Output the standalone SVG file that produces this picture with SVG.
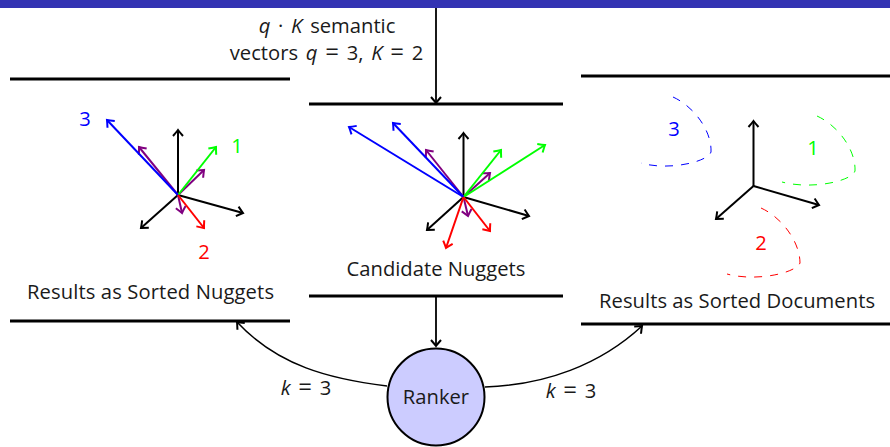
<svg xmlns="http://www.w3.org/2000/svg" width="890" height="447" viewBox="0 0 890 447">
<style>
text{font-family:"Open Sans","Noto Sans",sans-serif;font-size:20.2px;fill:#1a1a1a;text-anchor:middle}
.m{font-style:italic}
.e{font-size:24px}
.w{word-spacing:2.500px}
.rule{stroke:#000;stroke-width:3;fill:none}
.k{stroke:#000;stroke-width:2;fill:none;marker-end:url(#ak)}
.b{stroke:#00f;stroke-width:2;fill:none;marker-end:url(#ab)}
.g{stroke:#0f0;stroke-width:2;fill:none;marker-end:url(#ag)}
.r{stroke:#f00;stroke-width:2;fill:none;marker-end:url(#ar)}
.p{stroke:#800080;stroke-width:2;fill:none;marker-end:url(#ap)}
.c{stroke:#000;stroke-width:1.500;fill:none;marker-end:url(#ak)}
.v{stroke-width:1.800}
.d{fill:none;stroke-width:1;stroke-dasharray:8 8}
</style>
<defs>
<marker id="ak" markerUnits="userSpaceOnUse" markerWidth="14" markerHeight="14" refX="10" refY="7" orient="auto"><path d="M4 2Q8 5.500 10 7Q8 8.500 4 12" fill="none" stroke="#000" stroke-width="2"/></marker>
<marker id="ab" markerUnits="userSpaceOnUse" markerWidth="14" markerHeight="14" refX="10" refY="7" orient="auto"><path d="M4 2Q8 5.500 10 7Q8 8.500 4 12" fill="none" stroke="#00f" stroke-width="2"/></marker>
<marker id="ag" markerUnits="userSpaceOnUse" markerWidth="14" markerHeight="14" refX="10" refY="7" orient="auto"><path d="M4 2Q8 5.500 10 7Q8 8.500 4 12" fill="none" stroke="#0f0" stroke-width="2"/></marker>
<marker id="ar" markerUnits="userSpaceOnUse" markerWidth="14" markerHeight="14" refX="10" refY="7" orient="auto"><path d="M4 2Q8 5.500 10 7Q8 8.500 4 12" fill="none" stroke="#f00" stroke-width="2"/></marker>
<marker id="ap" markerUnits="userSpaceOnUse" markerWidth="14" markerHeight="14" refX="10" refY="7" orient="auto"><path d="M4 2Q8 5.500 10 7Q8 8.500 4 12" fill="none" stroke="#800080" stroke-width="2"/></marker>
</defs>
<rect x="0" y="0" width="890" height="8" fill="#3333b3"/>

<g id="connectors">
<path class="c v" d="M436 8V103"/>
<path class="c v" d="M436 297V346"/>
<path class="c" d="M387 386C330 379 278 366 237 322"/>
<path class="c" d="M485 387C545 385 600 365 642 326"/>
</g>

<g id="results-nuggets">
<path class="rule" d="M10 79H290M10 321H290"/>
<path class="k" d="M178 195V130"/>
<path class="k" d="M178 195L243 213"/>
<path class="k" d="M178 195L141 228"/>
<path class="p" d="M178 195L204 170"/>
<path class="p" d="M178 195L139 147"/>
<path class="p" d="M178 195L182 213"/>
<path class="g" d="M178 195L216 147"/>
<path class="b" d="M178 195L107 120"/>
<path class="r" d="M178 195L204 228"/>
<text x="85" y="126" style="fill:#00f">3</text>
<text x="237" y="153" style="fill:#0f0">1</text>
<text x="204" y="259" style="fill:#f00">2</text>
<text x="150.500" y="299" textLength="247">Results as Sorted Nuggets</text>
</g>

<g id="candidate-nuggets">
<path class="rule" d="M309 104H563M309 296H563"/>
<path class="k" d="M463.500 197V133"/>
<path class="k" d="M463.500 197L529 216"/>
<path class="k" d="M463.500 197L427 230"/>
<path class="p" d="M463.500 197L490 173"/>
<path class="p" d="M463.500 197L426 150"/>
<path class="p" d="M463.500 197L468 216"/>
<path class="g" d="M463.500 197L501 150"/>
<path class="g" d="M463.500 197L545 145"/>
<path class="b" d="M463.500 197L393 123"/>
<path class="b" d="M463.500 197L349 127"/>
<path class="r" d="M463.500 197L490 231"/>
<path class="r" d="M463.500 197L446 248"/>
<text x="436" y="276">Candidate Nuggets</text>
</g>

<g id="results-documents">
<path class="rule" d="M581 76H890M581 324H890"/>
<path class="k" d="M753.500 186V121"/>
<path class="k" d="M753.500 186L819 205"/>
<path class="k" d="M753.500 186L716 219"/>
<path class="d" stroke="#00f" d="M673 97C695 107 712 132 711 152C708 162 668 171 641 163"/>
<path class="d" stroke="#0f0" d="M817 116C839 126 856 151 855 171C852 181 812 190 782 182"/>
<path class="d" stroke="#f00" d="M761 208C783 218 800 243 800 263C796 273 756 282 727 274"/>
<text x="674" y="136" style="fill:#00f">3</text>
<text x="813" y="155" style="fill:#0f0">1</text>
<text x="761" y="250" style="fill:#f00">2</text>
<text x="737" y="308" textLength="276">Results as Sorted Documents</text>
</g>

<g id="ranker">
<circle cx="436" cy="397" r="48.500" fill="#ccf" stroke="#000" stroke-width="2"/>
<text x="436" y="404">Ranker</text>
</g>

<g id="labels">
<text x="327" y="33" class="w"><tspan class="m">q</tspan> · <tspan class="m">K</tspan> semantic</text>
<text x="326.500" y="60" class="w">vectors <tspan class="m">q</tspan> <tspan class="e">=</tspan> 3, <tspan class="m">K</tspan> <tspan class="e">=</tspan> 2</text>
<text x="306" y="395" class="w"><tspan class="m">k</tspan> <tspan class="e">=</tspan> 3</text>
<text x="571" y="398" class="w"><tspan class="m">k</tspan> <tspan class="e">=</tspan> 3</text>
</g>
</svg>
